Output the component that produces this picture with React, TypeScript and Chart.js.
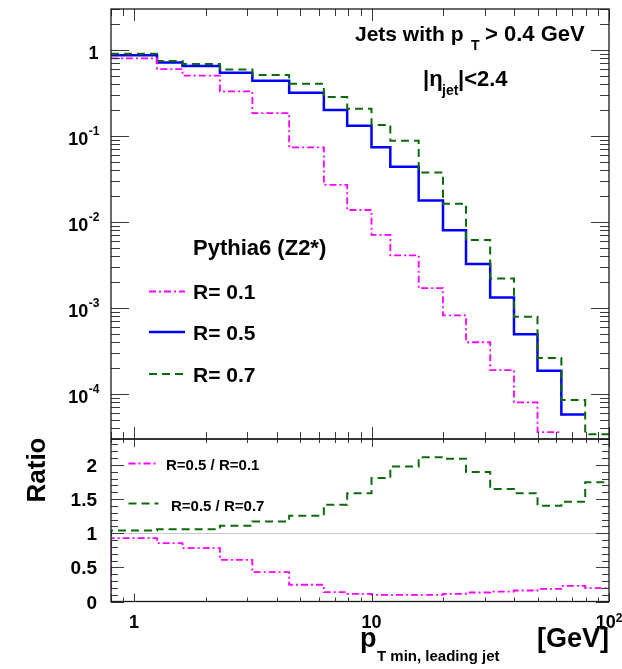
import React, { useEffect, useRef } from 'react';
import { Chart, registerables } from 'chart.js';

Chart.register(...registerables);

// ---------------- data ----------------
const binEdges = [0.8, 1.25, 1.6, 2.3, 3.15, 4.5, 6.3, 7.9, 10, 12, 15.8, 20, 25, 31.6, 39.8, 50, 63, 79.4, 100];

const jetsR01 = [0.80, 0.60, 0.505, 0.331, 0.185, 0.074, 0.027, 0.0138, 0.0071, 0.0041, 0.0017, 0.00082, 0.0004, 0.00019, 0.00008, 0.000036, null, null];
const jetsR05 = [0.87, 0.714, 0.653, 0.545, 0.438, 0.319, 0.201, 0.1315, 0.0743, 0.044, 0.0178, 0.00805, 0.00326, 0.00133, 0.000496, 0.000187, 0.000058, null];
const jetsR07 = [0.905, 0.745, 0.69, 0.595, 0.511, 0.405, 0.284, 0.2075, 0.1345, 0.088, 0.0377, 0.0163, 0.0062, 0.0022, 0.00079, 0.000263, 0.000085, 0.000034];

const ratioR05overR01 = [0.928, 0.855, 0.782, 0.61, 0.43, 0.245, 0.137, 0.113, 0.098, 0.098, 0.098, 0.113, 0.132, 0.146, 0.161, 0.186, 0.23, 0.196];
const ratioR05overR07 = [1.04, 1.06, 1.06, 1.108, 1.171, 1.255, 1.416, 1.587, 1.807, 1.977, 2.114, 2.09, 1.895, 1.646, 1.587, 1.401, 1.46, 1.748];

const seriesLabels = ['R= 0.1', 'R= 0.5', 'R= 0.7'];
const ratioLabels = ['R=0.5 / R=0.1', 'R=0.5 / R=0.7'];
const topYDecades = [0, -1, -2, -3, -4];
const ratioYTickLabels = [0, 0.5, 1, 1.5, 2];
const xDecades = [0, 1, 2];

const xRange = [0.8, 100];
const topYRange = [3e-5, 3];
const ratioYRange = [0, 2.38];

// ---------------- styles ----------------
const FAMILY = '"Liberation Sans", Arial, Helvetica, sans-serif';
const font = (s: number) => `bold ${s}px ${FAMILY}`;
const MAGENTA = '#ff00ff';
const BLUE = '#0000ff';
const GREEN = '#0b6b0b';
const DASH_DOT = [7, 3, 2, 3];
const DASHED = [8, 5];

function stepPoints(edges: number[], vals: (number | null)[], fromZero = false) {
  const pts: { x: number; y: number }[] = [];
  if (fromZero) pts.push({ x: edges[0], y: 0 });
  let last: number | null = null;
  for (let i = 0; i < vals.length; i++) {
    const v = vals[i];
    if (v === null) {
      if (last !== null) { pts.push({ x: edges[i], y: last }); last = null; }
      continue;
    }
    pts.push({ x: edges[i], y: v });
    last = v;
  }
  if (last !== null) pts.push({ x: edges[vals.length], y: last });
  return pts;
}

function logTicks(min: number, max: number) {
  const out: { v: number; major: boolean }[] = [];
  const d0 = Math.floor(Math.log10(min));
  const d1 = Math.ceil(Math.log10(max));
  for (let d = d0; d <= d1; d++) {
    for (let m = 1; m <= 9; m++) {
      const v = m * Math.pow(10, d);
      if (v >= min * 0.9999 && v <= max * 1.0001) out.push({ v, major: m === 1 });
    }
  }
  return out;
}

function linTicks(min: number, max: number, step: number, majorEvery: number) {
  const out: { v: number; major: boolean }[] = [];
  const n = Math.floor((max - min) / step + 1e-6);
  for (let i = 0; i <= n; i++) {
    const v = min + i * step;
    out.push({ v, major: i % majorEvery === 0 });
  }
  return out;
}

function seg(ctx: CanvasRenderingContext2D, x1: number, y1: number, x2: number, y2: number) {
  ctx.beginPath();
  ctx.moveTo(x1, y1);
  ctx.lineTo(x2, y2);
  ctx.stroke();
}

function drawFrame(chart: any, yTicks: { v: number; major: boolean }[], xLen: number[], yLen: number[]) {
  const ctx: CanvasRenderingContext2D = chart.ctx;
  const a = chart.chartArea;
  const xs = chart.scales.x;
  const ys = chart.scales.y;
  ctx.save();
  ctx.setLineDash([]);
  ctx.strokeStyle = '#3a3a3a';
  ctx.lineWidth = 1;
  for (const t of logTicks(xRange[0], xRange[1])) {
    const p = Math.round(xs.getPixelForValue(t.v)) + 0.5;
    const L = t.major ? xLen[0] : xLen[1];
    seg(ctx, p, a.bottom, p, a.bottom - L);
    seg(ctx, p, a.top, p, a.top + L);
  }
  for (const t of yTicks) {
    const p = Math.round(ys.getPixelForValue(t.v)) + 0.5;
    const L = t.major ? yLen[0] : yLen[1];
    seg(ctx, a.left, p, a.left + L, p);
    seg(ctx, a.right, p, a.right - L, p);
  }
  ctx.strokeStyle = '#1a1a1a';
  ctx.lineWidth = 1.3;
  ctx.strokeRect(a.left, a.top, a.right - a.left, a.bottom - a.top);
  ctx.restore();
}

function sample(ctx: CanvasRenderingContext2D, ds: any, x1: number, x2: number, y: number) {
  ctx.save();
  ctx.strokeStyle = ds.borderColor;
  ctx.lineWidth = ds.borderWidth;
  ctx.setLineDash(ds.borderDash || []);
  seg(ctx, x1, y, x2, y);
  ctx.restore();
}

const topPlugin = {
  id: 'rootTop',
  afterDatasetsDraw(chart: any) {
    const ctx: CanvasRenderingContext2D = chart.ctx;
    const ys = chart.scales.y;
    drawFrame(chart, logTicks(topYRange[0], topYRange[1]), [12, 7], [18, 9]);
    ctx.save();
    ctx.fillStyle = '#000';
    ctx.textBaseline = 'alphabetic';
    // y tick labels
    for (const d of topYDecades) {
      const py = ys.getPixelForValue(Math.pow(10, d));
      ctx.textAlign = 'right';
      if (d === 0) {
        ctx.font = font(18);
        ctx.fillText('1', 98.5, py + 8.5);
      } else {
        ctx.font = font(12);
        const sup = String(d);
        const w = ctx.measureText(sup).width;
        ctx.fillText(sup, 99.5, py - 1);
        ctx.font = font(18);
        ctx.fillText('10', 99.5 - w - 0.5, py + 8.5);
      }
    }
    // annotations
    ctx.textAlign = 'left';
    ctx.font = font(21);
    ctx.fillText('Jets with p', 355, 41);
    ctx.font = font(14);
    ctx.fillText('T', 471, 50);
    ctx.font = font(22);
    ctx.fillText('> 0.4 GeV', 485, 41);

    ctx.font = font(22);
    ctx.fillText('|η', 423, 86);
    ctx.font = font(14);
    ctx.fillText('jet', 442, 95);
    ctx.font = font(22);
    ctx.fillText('|<2.4', 458, 86);

    // legend
    ctx.font = font(22);
    ctx.fillText('Pythia6 (Z2*)', 193, 255);
    const ds = chart.data.datasets;
    const rows = [
      { d: ds[0], label: seriesLabels[0], ly: 291.5, ty: 298.5 },
      { d: ds[2], label: seriesLabels[1], ly: 332, ty: 339.5 },
      { d: ds[1], label: seriesLabels[2], ly: 374, ty: 381.5 },
    ];
    for (const r of rows) {
      sample(ctx, r.d, 149, 185, r.ly);
      ctx.font = font(21);
      ctx.fillStyle = '#000';
      ctx.fillText(r.label, 193, r.ty);
    }
    ctx.restore();
  },
};

const ratioPlugin = {
  id: 'rootRatio',
  beforeDatasetsDraw(chart: any) {
    const ctx: CanvasRenderingContext2D = chart.ctx;
    const a = chart.chartArea;
    const p = Math.round(chart.scales.y.getPixelForValue(1)) + 0.5;
    ctx.save();
    ctx.strokeStyle = '#c8c8c8';
    ctx.lineWidth = 1.2;
    seg(ctx, a.left, p, a.right, p);
    ctx.restore();
  },
  afterDatasetsDraw(chart: any) {
    const ctx: CanvasRenderingContext2D = chart.ctx;
    const xs = chart.scales.x;
    const ys = chart.scales.y;
    drawFrame(chart, linTicks(0, 2.3, 0.1, 5), [8, 4], [13, 7]);
    ctx.save();
    ctx.fillStyle = '#000';
    ctx.textBaseline = 'alphabetic';
    // y labels
    ctx.font = font(19);
    ctx.textAlign = 'right';
    for (const v of ratioYTickLabels) {
      const py = ys.getPixelForValue(v);
      ctx.fillText(String(v), 97, py + 7);
    }
    // x labels
    for (const d of xDecades) {
      const px = xs.getPixelForValue(Math.pow(10, d));
      const base = 628;
      if (d === 0) {
        ctx.font = font(18); ctx.textAlign = 'center';
        ctx.fillText('1', px, base);
      } else if (d === 1) {
        ctx.font = font(18); ctx.textAlign = 'center';
        ctx.fillText('10', px, base);
      } else {
        ctx.textAlign = 'left';
        ctx.font = font(18);
        const w1 = ctx.measureText('10').width;
        ctx.font = font(12);
        const sup = String(d);
        const w2 = ctx.measureText(sup).width;
        const start = px - (w1 + w2) / 2;
        ctx.font = font(18);
        ctx.fillText('10', start, base);
        ctx.font = font(12);
        ctx.fillText(sup, start + w1, base - 6);
      }
    }
    // x title
    ctx.textAlign = 'left';
    ctx.font = font(27);
    ctx.fillText('p', 360, 647);
    ctx.font = font(15);
    ctx.fillText('T min, leading jet', 377, 661);
    ctx.font = font(27);
    ctx.textAlign = 'right';
    ctx.fillText('[GeV]', 609, 647);
    // y title
    ctx.save();
    ctx.translate(45, 470);
    ctx.rotate(-Math.PI / 2);
    ctx.textAlign = 'center';
    ctx.font = font(26);
    ctx.fillText('Ratio', 0, 0);
    ctx.restore();
    // legend
    const ds = chart.data.datasets;
    sample(ctx, ds[0], 128.5, 157, 463.5);
    sample(ctx, ds[1], 128.5, 158.5, 503.5);
    ctx.fillStyle = '#000';
    ctx.textAlign = 'left';
    ctx.font = font(15);
    ctx.fillText(ratioLabels[0], 166, 470);
    ctx.fillText(ratioLabels[1], 171, 510.5);
    ctx.restore();
  },
};

function lineDs(label: string, data: any[], color: string, width: number, dash: number[]) {
  return {
    label,
    data,
    borderColor: color,
    backgroundColor: color,
    borderWidth: width,
    borderDash: dash,
    stepped: 'before' as const,
    pointRadius: 0,
    fill: false,
    clip: 0,
  };
}

export default function App() {
  const topRef = useRef<HTMLCanvasElement>(null);
  const ratioRef = useRef<HTMLCanvasElement>(null);

  useEffect(() => {
    const top = new Chart(topRef.current as HTMLCanvasElement, {
      type: 'line',
      data: {
        datasets: [
          lineDs(seriesLabels[0], stepPoints(binEdges, jetsR01), MAGENTA, 1.8, DASH_DOT),
          lineDs(seriesLabels[2], stepPoints(binEdges, jetsR07), GREEN, 2, DASHED),
          lineDs(seriesLabels[1], stepPoints(binEdges, jetsR05), BLUE, 2.5, []),
        ],
      },
      options: {
        responsive: false,
        animation: false,
        devicePixelRatio: 1,
        layout: { padding: { left: 111, right: 13, top: 9, bottom: 669 - 439 } },
        plugins: { legend: { display: false }, tooltip: { enabled: false } },
        scales: {
          x: { type: 'logarithmic', min: xRange[0], max: xRange[1], display: false },
          y: { type: 'logarithmic', min: topYRange[0], max: topYRange[1], display: false },
        },
      } as any,
      plugins: [topPlugin],
    } as any);

    const ratio = new Chart(ratioRef.current as HTMLCanvasElement, {
      type: 'line',
      data: {
        datasets: [
          lineDs(ratioLabels[0], stepPoints(binEdges, ratioR05overR01, true), MAGENTA, 1.8, DASH_DOT),
          lineDs(ratioLabels[1], stepPoints(binEdges, ratioR05overR07, true), GREEN, 2, DASHED),
        ],
      },
      options: {
        responsive: false,
        animation: false,
        devicePixelRatio: 1,
        layout: { padding: { left: 111, right: 13, top: 439, bottom: 669 - 601.5 } },
        plugins: { legend: { display: false }, tooltip: { enabled: false } },
        scales: {
          x: { type: 'logarithmic', min: xRange[0], max: xRange[1], display: false },
          y: { type: 'linear', min: ratioYRange[0], max: ratioYRange[1], display: false },
        },
      } as any,
      plugins: [ratioPlugin],
    } as any);

    return () => {
      top.destroy();
      ratio.destroy();
    };
  }, []);

  const cs: React.CSSProperties = { position: 'absolute', left: 0, top: 0, width: 622, height: 669 };
  return (
    <div style={{ position: 'absolute', left: 0, top: 0, width: 622, height: 669, background: '#fff', overflow: 'hidden' }}>
      <canvas ref={topRef} width={622} height={669} style={cs} />
      <canvas ref={ratioRef} width={622} height={669} style={cs} />
    </div>
  );
}
